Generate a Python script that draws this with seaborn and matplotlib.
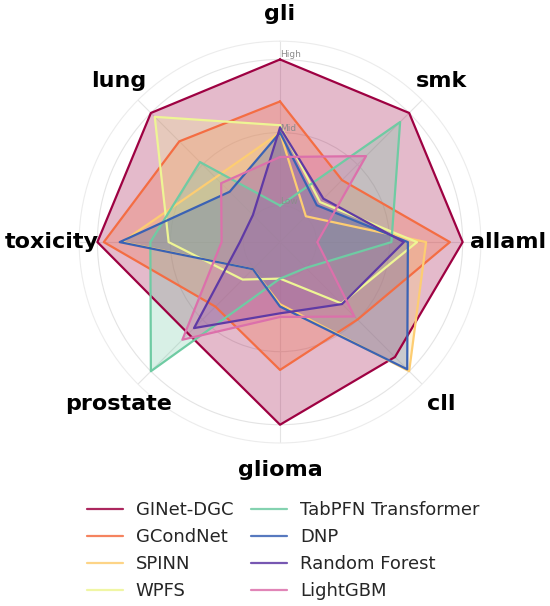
import matplotlib
matplotlib.use('Agg')
import matplotlib.pyplot as plt
from matplotlib.lines import Line2D
import numpy as np
import pandas as pd
import seaborn as sns

sns.set_style('white')
plt.rcParams['font.family'] = ['DejaVu Sans']

# datasets, clockwise from the top
categories = ['gli', 'smk', 'allaml', 'cll', 'glioma', 'prostate', 'toxicity', 'lung']

models = ['GINet-DGC', 'GCondNet', 'SPINN', 'WPFS',
          'TabPFN Transformer', 'DNP', 'Random Forest', 'LightGBM']

ginet = [1.00, 1.00, 1.00, 0.89, 1.00, 0.71, 1.00, 1.00]
gcondnet = [0.77, 0.48, 0.93, 0.60, 0.70, 0.50, 0.965, 0.78]
spinn = [0.60, 0.20, 0.80, 1.00, 0.34, 0.21, 0.865, 0.50]
wpfs = [0.64, 0.31, 0.75, 0.475, 0.20, 0.29, 0.61, 0.97]
tabpfn = [0.20, 0.93, 0.61, 0.20, 0.20, 1.00, 0.71, 0.62]
dnp = [0.60, 0.285, 0.70, 0.985, 0.353, 0.21, 0.878, 0.39]
rforest = [0.627, 0.336, 0.678, 0.48, 0.39, 0.666, 0.22, 0.21]
lightgbm = [0.466, 0.666, 0.204, 0.576, 0.41, 0.756, 0.32, 0.456]

scores = [ginet, gcondnet, spinn, wpfs, tabpfn, dnp, rforest, lightgbm]

colors = ['#9e0142', '#f46d43', '#fdcd72', '#eef594',
          '#6fcba3', '#3a62b4', '#5f3aa5', '#dc70ab']

tick_vals = [0.2, 0.6, 1.0]
tick_text = ['Low', 'Mid', 'High']

angles = np.linspace(0, 2 * np.pi, len(categories), endpoint=False)

fig = plt.figure(figsize=(5.5, 6.06), dpi=100)
ax = fig.add_axes([79 / 550, 0.269, 0.731, 0.663], polar=True)
ax.set_theta_offset(np.pi / 2)
ax.set_theta_direction(-1)

for name, vals, col in zip(models, scores, colors):
    df = pd.DataFrame({'theta': np.append(angles, angles[0]),
                       'r': vals + vals[:1]})
    sns.lineplot(data=df, x='theta', y='r', sort=False, estimator=None,
                 color=col, lw=1.6, ax=ax, legend=False)
    ax.fill(df['theta'], df['r'], color=col, alpha=0.27, lw=0)

ax.set_ylim(0, 1.1)
ax.set_xticks(angles)
ax.set_xticklabels([])
ax.set_yticks(tick_vals)
ax.set_yticklabels([])
ax.set_xlabel('')
ax.set_ylabel('')
ax.grid(color='#e4e4e4', lw=0.8)
ax.spines['polar'].set_color('#ececec')
ax.spines['polar'].set_linewidth(0.8)

for a, lab in zip(angles, categories):
    ax.text(a, 1.25, lab, ha='center', va='center', fontsize=16,
            fontweight='bold', color='black')

for v, t in zip(tick_vals, tick_text):
    ax.text(0.0, v, t, ha='left', va='bottom', fontsize=6.5,
            color='#8c8c8c')

handles = [Line2D([0], [0], color=c, lw=1.6, alpha=0.85) for c in colors]
fig.legend(handles, models, loc='upper center', bbox_to_anchor=(0.515, 0.2),
           ncol=2, fontsize=13, frameon=False, columnspacing=1.0,
           handletextpad=0.7)

fig.savefig('out.png', dpi=100)
